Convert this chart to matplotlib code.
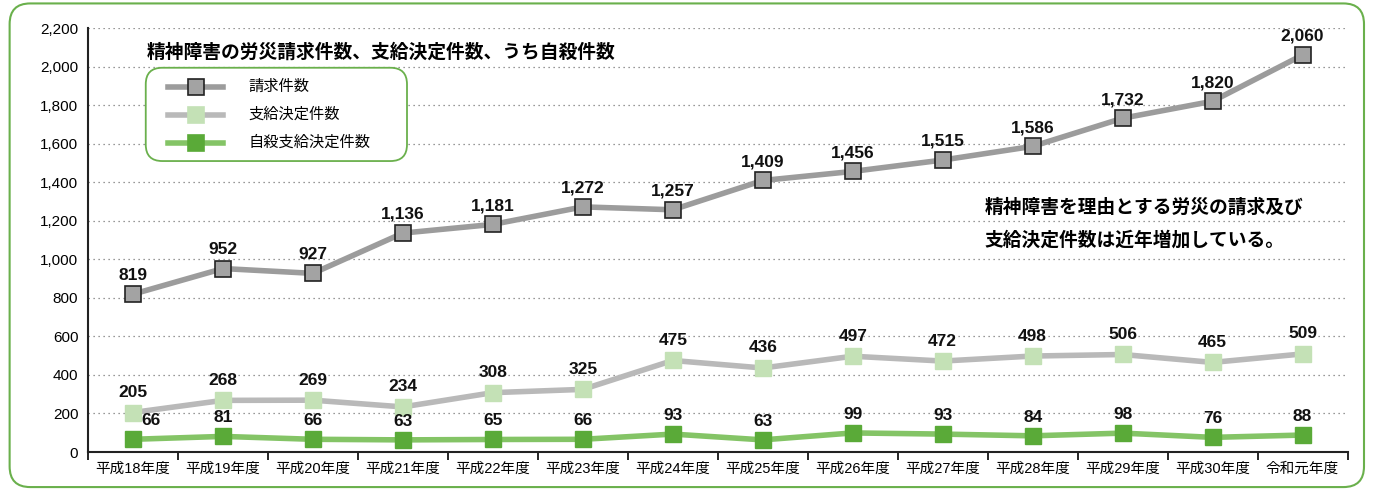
import matplotlib
matplotlib.use('Agg')
import matplotlib.pyplot as plt
from matplotlib.patches import FancyBboxPatch
from matplotlib.lines import Line2D
import numpy as np

plt.rcParams['font.family'] = ['Liberation Sans', 'Noto Sans CJK JP']

categories = ['平成18年度', '平成19年度', '平成20年度', '平成21年度', '平成22年度',
              '平成23年度', '平成24年度', '平成25年度', '平成26年度', '平成27年度',
              '平成28年度', '平成29年度', '平成30年度', '令和元年度']
claims = [819, 952, 927, 1136, 1181, 1272, 1257, 1409, 1456, 1515, 1586, 1732, 1820, 2060]
approved = [205, 268, 269, 234, 308, 325, 475, 436, 497, 472, 498, 506, 465, 509]
suicide = [66, 81, 66, 63, 65, 66, 93, 63, 99, 93, 84, 98, 76, 88]
yticks = list(range(0, 2201, 200))

GREEN = '#6ab04c'

fig = plt.figure(figsize=(13.75, 4.91), dpi=100)
# outer rounded frame
frame = FancyBboxPatch((0.007, 0.008), 0.985, 0.985, boxstyle='round,pad=0,rounding_size=0.015',
                       transform=fig.transFigure, fill=False, edgecolor=GREEN, linewidth=1.5,
                       mutation_aspect=2.8)
fig.patches.append(frame)

ax = fig.add_axes([0.064, 0.0794, 0.916, 0.8635])
x = np.arange(len(categories))

ax.plot(x, claims, color='#9c9c9c', linewidth=4, marker='s', markersize=11,
        markerfacecolor='#a3a3a3', markeredgecolor='#222222', markeredgewidth=1.2, zorder=4)
ax.plot(x, approved, color='#b9b9b9', linewidth=4, marker='s', markersize=12,
        markerfacecolor='#c4e1b6', markeredgecolor='#c4e1b6', zorder=3)
ax.plot(x, suicide, color='#84c466', linewidth=4, marker='s', markersize=12,
        markerfacecolor='#5aaa38', markeredgecolor='#5aaa38', zorder=5)

lab = dict(fontsize=12.5, fontweight='bold', ha='center', va='bottom', color='#111111', zorder=6)
for i, v in enumerate(claims):
    ax.annotate(f'{v:,}', (i, v), xytext=(0, 8), textcoords='offset points', **lab)
for i, v in enumerate(approved):
    ax.annotate(f'{v:,}', (i, v), xytext=(0, 9), textcoords='offset points', **lab)
for i, v in enumerate(suicide):
    dx = 13 if i == 0 else 0
    ax.annotate(f'{v:,}', (i, v), xytext=(dx, 8), textcoords='offset points', **lab)

ax.set_xlim(-0.5, len(categories) - 0.5)
ax.set_ylim(0, 2200)
ax.set_yticks(yticks)
ax.set_yticklabels([f'{t:,}' for t in yticks], fontsize=11)
ax.set_xticks(x)
ax.set_xticklabels(categories, fontsize=10.5)
ax.set_xticks(np.arange(-0.5, len(categories)), minor=True)
ax.tick_params(axis='x', which='major', length=0, pad=7)
ax.tick_params(axis='x', which='minor', length=6, width=1.2, direction='out')
ax.tick_params(axis='y', length=0, pad=7)
ax.grid(axis='y', linestyle=(0, (1, 3)), color='#777777', linewidth=0.9)
ax.set_axisbelow(True)
for s in ['top', 'right']:
    ax.spines[s].set_visible(False)
for s in ['left', 'bottom']:
    ax.spines[s].set_linewidth(1.5)
    ax.spines[s].set_color('#222222')

fig.text(0.107, 0.893, '精神障害の労災請求件数、支給決定件数、うち自殺件数', fontsize=13.5,
         fontweight='bold', va='center', ha='left')

# legend box
lbox = FancyBboxPatch((0.106, 0.672), 0.19, 0.19, boxstyle='round,pad=0,rounding_size=0.012',
                      transform=fig.transFigure, facecolor='white', edgecolor=GREEN,
                      linewidth=1.3, mutation_aspect=2.8, zorder=7)
fig.patches.append(lbox)
leg_items = [('請求件数', '#9c9c9c', '#a3a3a3', '#222222'),
             ('支給決定件数', '#b9b9b9', '#c4e1b6', '#c4e1b6'),
             ('自殺支給決定件数', '#84c466', '#5aaa38', '#5aaa38')]
for k, (name, lc, fc, ec) in enumerate(leg_items):
    yy = 0.823 - k * 0.057
    fig.add_artist(Line2D([0.1225, 0.1625], [yy, yy], color=lc, linewidth=4,
                          transform=fig.transFigure, zorder=8))
    fig.add_artist(Line2D([0.1425], [yy], marker='s', markersize=11, markerfacecolor=fc,
                          markeredgecolor=ec, markeredgewidth=1.2, transform=fig.transFigure,
                          zorder=9))
    fig.text(0.181, yy, name, fontsize=11, va='center', ha='left', zorder=9)

fig.text(0.716, 0.577, '精神障害を理由とする労災の請求及び', fontsize=13.5, fontweight='bold',
         va='center', ha='left')
fig.text(0.716, 0.511, '支給決定件数は近年増加している。', fontsize=13.5, fontweight='bold',
         va='center', ha='left')

fig.savefig('out.png', dpi=100)
